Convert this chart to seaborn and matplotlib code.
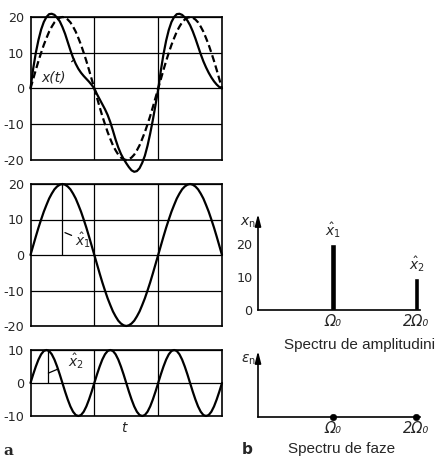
import numpy as np
import pandas as pd
import matplotlib
matplotlib.use("Agg")
import matplotlib.pyplot as plt
import seaborn as sns
from matplotlib import font_manager

# ---------------- data ----------------
# sample positions in units of a half fundamental period (grid lines at 1 and 2)
t_samples = np.arange(73) / 24.0

x_sum = [0, 5.5, 10.0, 13.6, 16.5, 18.6, 20.0, 20.8, 20.9, 20.6, 19.8, 18.8, 17.2,
         15.3, 13.0, 10.7, 8.6, 6.9, 5.5, 4.4, 3.5, 2.7, 1.9, 1.0, 0,
         -1.6, -3.0, -4.4, -5.8, -7.4, -9.4, -11.8, -14.3, -16.5, -18.3, -19.7, -20.9,
         -22.0, -22.9, -23.3, -23.1, -22.3, -20.8, -18.8, -16.0, -12.6, -8.8, -4.6, -0.3,
         5.0, 9.6, 13.4, 16.4, 18.6, 20.0, 20.8, 20.9, 20.6, 19.9, 19.0, 17.7,
         16.0, 14.0, 11.8, 9.6, 7.6, 5.9, 4.4, 3.1, 2.0, 1.1, 0.4, 0]

x_1 = [0, 2.6, 5.2, 7.7, 10.0, 12.2, 14.1, 15.9, 17.3, 18.5, 19.3, 19.8, 20.0,
       19.8, 19.3, 18.5, 17.3, 15.9, 14.1, 12.2, 10.0, 7.7, 5.2, 2.6, 0,
       -2.6, -5.2, -7.7, -10.0, -12.2, -14.1, -15.9, -17.3, -18.5, -19.3, -19.8, -20.0,
       -19.8, -19.3, -18.5, -17.3, -15.9, -14.1, -12.2, -10.0, -7.7, -5.2, -2.6, 0,
       2.6, 5.2, 7.7, 10.0, 12.2, 14.1, 15.9, 17.3, 18.5, 19.3, 19.8, 20.0,
       19.8, 19.3, 18.5, 17.3, 15.9, 14.1, 12.2, 10.0, 7.7, 5.2, 2.6, 0]

x_2 = [0, 2.6, 5.0, 7.1, 8.7, 9.7, 10.0, 9.7, 8.7, 7.1, 5.0, 2.6, 0,
       -2.6, -5.0, -7.1, -8.7, -9.7, -10.0, -9.7, -8.7, -7.1, -5.0, -2.6, 0,
       2.6, 5.0, 7.1, 8.7, 9.7, 10.0, 9.7, 8.7, 7.1, 5.0, 2.6, 0,
       -2.6, -5.0, -7.1, -8.7, -9.7, -10.0, -9.7, -8.7, -7.1, -5.0, -2.6, 0,
       2.6, 5.0, 7.1, 8.7, 9.7, 10.0, 9.7, 8.7, 7.1, 5.0, 2.6, 0,
       -2.6, -5.0, -7.1, -8.7, -9.7, -10.0, -9.7, -8.7, -7.1, -5.0, -2.6, 0]

amp1, amp2 = 20.0, 10.0
peak1_t, peak2_t = 0.5, 0.27

spec_pos = [1, 2]
spec_amp = [20, 9.7]
spec_phase = [0, 0]
spec_labels = ["Ω₀", "2Ω₀"]

yt_big = [-20, -10, 0, 10, 20]
yt_big_lbl = ["-20", "-10", "0", "10", "20"]
yt_small = [-10, 0, 10]
yt_small_lbl = ["-10", "0", "10"]
yt_amp = [0, 10, 20]
yt_amp_lbl = ["0", "10", "20"]

# ---------------- style ----------------
sns.set_style("white")
plt.rcParams["font.family"] = ["DejaVu Sans"]
plt.rcParams["mathtext.fontset"] = "dejavusans"
names = {f.name for f in font_manager.fontManager.ttflist}
title_family = ["Liberation Sans", "DejaVu Sans"] if "Liberation Sans" in names else ["DejaVu Sans"]

W, H = 437, 458
fig = plt.figure(figsize=(W / 100, H / 100), dpi=100)
fig.patch.set_facecolor("white")


def box(l, t, r, b):
    return [l / W, 1 - b / H, (r - l) / W, (b - t) / H]


LW = 1.6
tick_font = dict(fontsize=9.2)


def frame_panel(ax, ylim, yt, ytl):
    ax.set_xlim(0, 3)
    ax.set_ylim(*ylim)
    ax.set_xticks([1, 2])
    ax.set_xticklabels([])
    ax.set_yticks(yt)
    ax.set_yticklabels(ytl, **tick_font)
    ax.tick_params(length=0, pad=4.5)
    ax.grid(True, color="black", lw=0.9)
    for s in ax.spines.values():
        s.set_visible(True)
        s.set_color("black")
        s.set_linewidth(1.2)
    ax.set_xlabel("")
    ax.set_ylabel("")


# top panel: x(t) and dashed fundamental
ax1 = fig.add_axes(box(30.5, 17, 222, 160))
sns.lineplot(x=t_samples, y=x_1, ax=ax1, color="black", lw=LW,
             linestyle=(0, (3.2, 1.6)), clip_on=False)
sns.lineplot(x=t_samples, y=x_sum, ax=ax1, color="black", lw=LW, clip_on=False)
frame_panel(ax1, (-20, 20), yt_big, yt_big_lbl)
ax1.annotate("x(t)", xy=(0.69, 8.2), xytext=(0.36, 3.1), fontsize=10,
             fontstyle="italic", ha="center", va="center",
             arrowprops=dict(arrowstyle="-", lw=0.9, color="black",
                             shrinkA=6, shrinkB=0))

# middle panel: first harmonic
ax2 = fig.add_axes(box(30.5, 184, 222, 326))
sns.lineplot(x=t_samples, y=x_1, ax=ax2, color="black", lw=LW, clip_on=False)
frame_panel(ax2, (-20, 20), yt_big, yt_big_lbl)
ax2.vlines(peak1_t, 0, amp1, color="black", lw=0.9)
ax2.annotate(r"$\hat{x}_1$", xy=(0.54, 6.3), xytext=(0.82, 4.2), fontsize=10,
             ha="center", va="center",
             arrowprops=dict(arrowstyle="-", lw=0.9, color="black",
                             shrinkA=6, shrinkB=0))

# bottom panel: second harmonic
ax3 = fig.add_axes(box(30.5, 350, 222, 416))
sns.lineplot(x=t_samples, y=x_2, ax=ax3, color="black", lw=LW, clip_on=False)
frame_panel(ax3, (-10, 10), yt_small, yt_small_lbl)
ax3.vlines(peak2_t, 0, amp2, color="black", lw=0.9)
ax3.annotate(r"$\hat{x}_2$", xy=(0.28, 3.0), xytext=(0.72, 6.6), fontsize=10,
             ha="center", va="center",
             arrowprops=dict(arrowstyle="-", lw=0.9, color="black",
                             shrinkA=6, shrinkB=0))

# amplitude spectrum
xlo, xhi = 0.102, 2.036
ax4 = fig.add_axes(box(258, 214, 419.5, 310))
df_amp = pd.DataFrame({"pos": spec_pos, "amp": spec_amp})
sns.barplot(data=df_amp, x="pos", y="amp", ax=ax4, native_scale=True,
            width=0.07, color="black", saturation=1, errorbar=None)
ax4.set_xlim(xlo, xhi)
ax4.set_ylim(0, 29.1)
ax4.set_yticks(yt_amp)
ax4.set_yticklabels(yt_amp_lbl, **tick_font)
ax4.set_xticks(spec_pos)
ax4.set_xticklabels(spec_labels, fontsize=10.5, fontstyle="italic")
ax4.tick_params(axis="x", length=0, pad=3)
ax4.tick_params(axis="y", length=0, pad=4)
for s in ["top", "right", "left"]:
    ax4.spines[s].set_visible(False)
ax4.spines["bottom"].set_color("black")
ax4.spines["bottom"].set_linewidth(1.2)
ax4.annotate("", xy=(0, 1), xytext=(0, 0), xycoords="axes fraction",
             arrowprops=dict(arrowstyle="-|>,head_length=0.7,head_width=0.18",
                             lw=1.2, color="black", shrinkA=0, shrinkB=0,
                             mutation_scale=10))
ax4.set_xlabel("")
ax4.set_ylabel("")
ax4.text(spec_pos[0], spec_amp[0] + 1.2, r"$\hat{x}_1$", ha="center", va="bottom", fontsize=10)
ax4.text(spec_pos[1], spec_amp[1] + 1.2, r"$\hat{x}_2$", ha="center", va="bottom", fontsize=10)
ax4.text(-0.06, 0.98, r"$x_\mathrm{n}$", transform=ax4.transAxes, ha="center",
         va="top", fontsize=10)

# phase spectrum
ax5 = fig.add_axes(box(258, 351, 419.5, 417))
sns.scatterplot(x=spec_pos, y=spec_phase, ax=ax5, color="black", s=22,
                edgecolor="black", clip_on=False, zorder=5)
ax5.set_xlim(xlo, xhi)
ax5.set_ylim(0, 1)
ax5.set_yticks([])
ax5.set_xticks(spec_pos)
ax5.set_xticklabels(spec_labels, fontsize=10.5, fontstyle="italic")
ax5.tick_params(length=0, pad=3)
for s in ["top", "right", "left"]:
    ax5.spines[s].set_visible(False)
ax5.spines["bottom"].set_color("black")
ax5.spines["bottom"].set_linewidth(1.2)
ax5.annotate("", xy=(0, 1), xytext=(0, 0), xycoords="axes fraction",
             arrowprops=dict(arrowstyle="-|>,head_length=0.7,head_width=0.18",
                             lw=1.2, color="black", shrinkA=0, shrinkB=0,
                             mutation_scale=10))
ax5.text(-0.06, 0.98, r"$\epsilon_\mathrm{n}$", transform=ax5.transAxes, ha="center",
         va="top", fontsize=10)

# figure texts
fig.text(359 / W, 1 - 345 / H, "Spectru de amplitudini", ha="center", va="center",
         fontsize=11, family=title_family)
fig.text(342 / W, 1 - 449 / H, "Spectru de faze", ha="center", va="center",
         fontsize=11, family=title_family)
fig.text(124 / W, 1 - 428 / H, "t", ha="center", va="center", fontsize=10, fontstyle="italic")
fig.text(8 / W, 1 - 451 / H, "a", ha="center", va="center", fontsize=11,
         fontweight="bold", family=["DejaVu Serif"])
fig.text(247 / W, 1 - 449 / H, "b", ha="center", va="center", fontsize=11, fontweight="bold")

fig.savefig("out.png", dpi=100, facecolor="white")
